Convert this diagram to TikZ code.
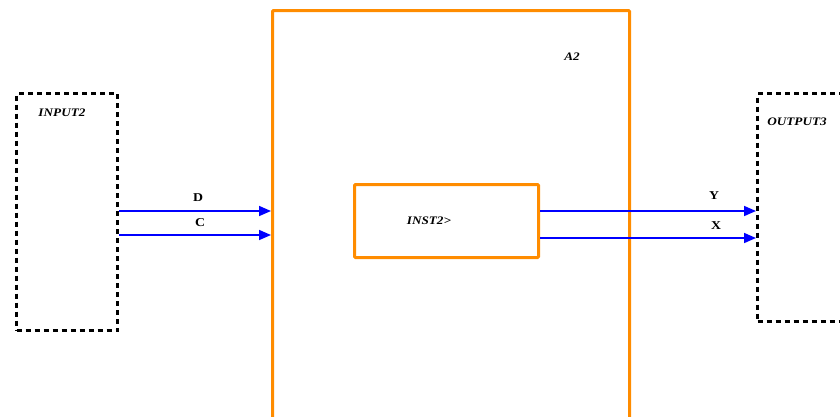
\documentclass[tikz,border=0pt]{standalone}
\usepackage{fontspec}
\setmainfont{Liberation Serif}
\usetikzlibrary{arrows.meta}
\definecolor{boxorange}{RGB}{255,140,0}
\definecolor{sigblue}{RGB}{0,0,255}
\tikzset{
  port/.style={draw=black, line width=3pt, dash pattern=on 5pt off 4pt, inner sep=0pt, anchor=north west},
  blk/.style={draw=boxorange, line width=3pt, rounded corners=1pt, inner sep=0pt, anchor=north west},
  sig/.style={draw=sigblue, line width=1.6pt, -{Triangle[length=12pt,width=10pt]}},
  lbl/.style={font=\bfseries\itshape\fontsize{11.5}{13}\selectfont, inner sep=0pt, xscale=1.15, transform shape},
  plbl/.style={font=\bfseries\fontsize{12}{14}\selectfont, inner sep=0pt, xscale=1.15, transform shape}
}
\begin{document}
\begin{tikzpicture}[x=1pt,y=1pt]
\useasboundingbox (0,0) rectangle (840,-416);
\clip (0,0) rectangle (840,-416);
% boxes
\node[port, minimum width=101pt, minimum height=237pt] (in2) at (15,-92) {};
\node[port, minimum width=100pt, minimum height=228pt] (out3) at (756,-92) {};
\node[blk, minimum width=357pt, minimum height=430pt] (a2) at (271,-9) {};
\node[blk, minimum width=184pt, minimum height=73pt] (inst) at (353,-183) {};
% labels
\node[lbl] (tin) at (62,-113) {INPUT2};
\node[lbl] (tout) at (797,-122) {OUTPUT3};
\node[lbl] (ta2) at (572,-57) {A2};
\node[lbl] (tinst) at (429,-221) {INST2>};
% signal rows
\coordinate (yd) at (0,-211);
\coordinate (yc) at (0,-235);
\coordinate (yy) at (0,-211);
\coordinate (yx) at (0,-238);
\draw[sig] (in2.east |- yd) -- (a2.west |- yd);
\draw[sig] (in2.east |- yc) -- (a2.west |- yc);
\draw[sig] (inst.east |- yy) -- (out3.west |- yy);
\draw[sig] (inst.east |- yx) -- (out3.west |- yx);
\node[plbl] (td) at (198,-198) {D};
\node[plbl] (tc) at (200,-223) {C};
\node[plbl] (ty) at (714,-196) {Y};
\node[plbl] (tx) at (716,-226) {X};
\end{tikzpicture}
\end{document}
